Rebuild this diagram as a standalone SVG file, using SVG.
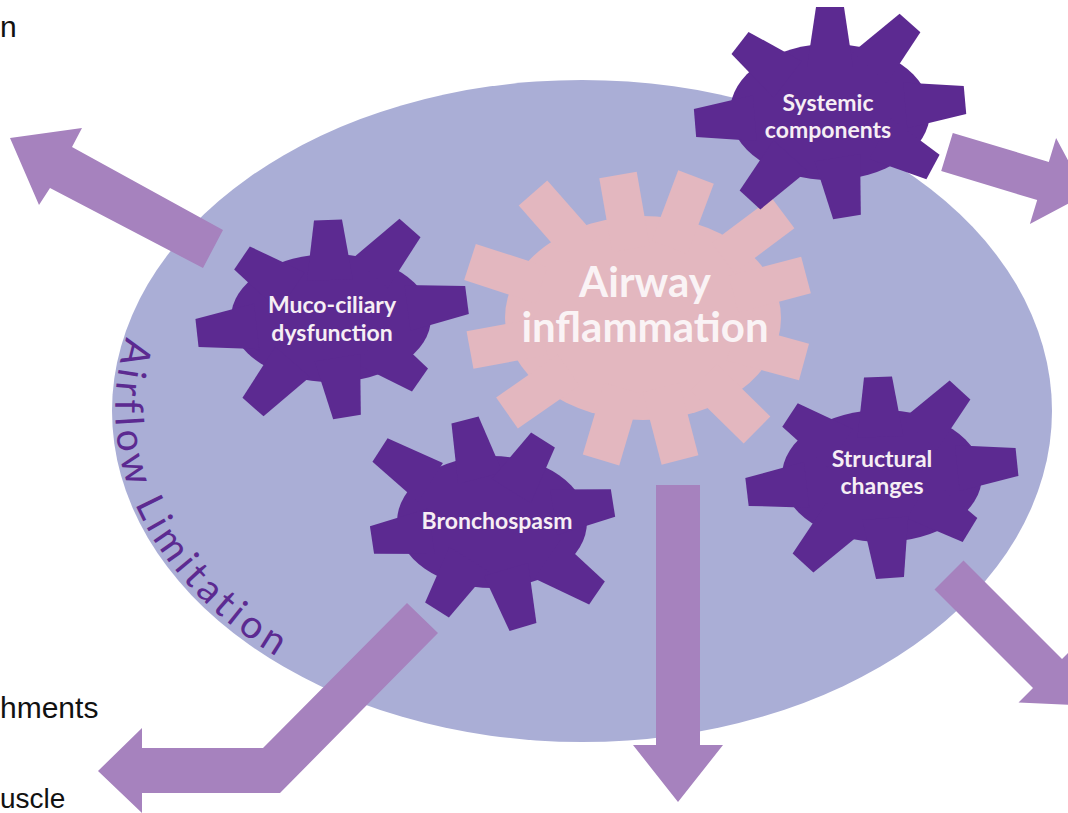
<svg xmlns="http://www.w3.org/2000/svg" xmlns:xlink="http://www.w3.org/1999/xlink" width="1068" height="813" viewBox="0 0 1068 813">
<style>
.arrow{fill:#A682BE}
.purple{fill:#5C2A91}
.pink{fill:#E3B7BF}
.glabel{font-family:Lato,"Open Sans","Liberation Sans",sans-serif;font-weight:bold;font-size:23px;fill:#F6EEF4;text-anchor:middle}
.clabel{font-family:Lato,"Open Sans","Liberation Sans",sans-serif;font-weight:bold;font-size:42px;fill:#FAF3F5;text-anchor:middle}
.side{font-family:"Liberation Sans",Arial,sans-serif;font-size:30px;fill:#111}
.afl{font-family:Lato,"Open Sans",sans-serif;font-weight:normal;font-size:39px;fill:#5C2A91;letter-spacing:4.5px}
</style>
<defs>
<rect id="pt" x="-75" y="-19" width="75" height="38"/>
<polygon id="dt" points="-60,-23 0,-14 0,14 -60,23"/>
<path id="aflpath" d="M143,298.5 A465,326 0 0 0 421,716" fill="none"/>
</defs>
<rect width="1068" height="813" fill="#FFFFFF"/>
<text class="side" x="0" y="37">n</text>
<text class="side" x="0" y="718">hments</text>
<text class="side" x="0" y="808" style="font-size:28px">uscle</text>
<g id="airflow-limitation">
<ellipse cx="582" cy="411" rx="470" ry="331" fill="#AAAED6"/>
<text class="afl"><textPath href="#aflpath" xlink:href="#aflpath" startOffset="42">Airflow Limitation</textPath></text>
</g>
<g id="connectors">
<polygon class="arrow" points="10,138 82,128 72,147 223,230 203,268 50,188 39,205"/>
<polygon class="arrow" points="952.8,132.9 1048.8,161.9 1056.1,138 1086,194.1 1029.9,224 1037.2,200.1 941.2,171.1"/>
<polygon class="arrow" points="963.5,560.5 1062,659 1076.5,644.5 1079.3,705.3 1018.5,702.5 1033,688 934.5,589.5"/>
<polygon class="arrow" points="656,485 700,485 700,745 723,745 678,802 633,745 656,745"/>
<polygon class="arrow" points="407,603 438,633 280,793 142,793 142,813 98,771 142,728 142,748 263,748"/>
</g>
<g id="airway-inflammation" class="pink">
<ellipse cx="643" cy="318" rx="138" ry="102"/>
<use href="#pt" xlink:href="#pt" transform="translate(618,175) rotate(-99.9)"/>
<use href="#pt" xlink:href="#pt" transform="translate(696,177) rotate(-69.4)"/>
<use href="#pt" xlink:href="#pt" transform="translate(533,193) rotate(-131.3)"/>
<use href="#pt" xlink:href="#pt" transform="translate(783,213) rotate(-36.9)"/>
<use href="#pt" xlink:href="#pt" transform="translate(470,262) rotate(-162.1)"/>
<use href="#pt" xlink:href="#pt" transform="translate(470,350) rotate(169.5)"/>
<use href="#pt" xlink:href="#pt" transform="translate(806,275) rotate(-14.8)"/>
<use href="#pt" xlink:href="#pt" transform="translate(804,362) rotate(15.3)"/>
<use href="#pt" xlink:href="#pt" transform="translate(507,413) rotate(145.1)"/>
<use href="#pt" xlink:href="#pt" transform="translate(601,460) rotate(106.5)"/>
<use href="#pt" xlink:href="#pt" transform="translate(680,460) rotate(75.4)"/>
<use href="#pt" xlink:href="#pt" transform="translate(757,430) rotate(44.5)"/>
<text class="clabel" x="645" y="297">Airway</text>
<text class="clabel" x="645" y="342">inflammation</text>
</g>
<g id="muco-ciliary" class="purple">
<ellipse cx="331" cy="318" rx="100" ry="64"/>
<use href="#dt" xlink:href="#dt" transform="translate(242,258) rotate(-146)"/>
<use href="#dt" xlink:href="#dt" transform="translate(328,220) rotate(-91.8)"/>
<use href="#dt" xlink:href="#dt" transform="translate(410,228) rotate(-48.7)"/>
<use href="#dt" xlink:href="#dt" transform="translate(467,300) rotate(-7.5)"/>
<use href="#dt" xlink:href="#dt" transform="translate(420,380) rotate(34.9)"/>
<use href="#dt" xlink:href="#dt" transform="translate(347,417) rotate(80.8)"/>
<use href="#dt" xlink:href="#dt" transform="translate(253,407) rotate(131.2)"/>
<use href="#dt" xlink:href="#dt" transform="translate(197,333) rotate(173.6)"/>
<text class="glabel" x="332" y="313">Muco-ciliary</text>
<text class="glabel" x="332" y="341">dysfunction</text>
</g>
<g id="bronchospasm" class="purple">
<ellipse cx="492" cy="522" rx="95" ry="66"/>
<use href="#dt" xlink:href="#dt" transform="translate(380,450) rotate(-147.3)"/>
<use href="#dt" xlink:href="#dt" transform="translate(465,420) rotate(-104.8)"/>
<use href="#dt" xlink:href="#dt" transform="translate(543,440) rotate(-58.1)"/>
<use href="#dt" xlink:href="#dt" transform="translate(613,503) rotate(-8.9)"/>
<use href="#dt" xlink:href="#dt" transform="translate(597,593) rotate(34.1)"/>
<use href="#dt" xlink:href="#dt" transform="translate(523,627) rotate(73.6)"/>
<use href="#dt" xlink:href="#dt" transform="translate(437,610) rotate(122)"/>
<use href="#dt" xlink:href="#dt" transform="translate(372,540) rotate(171.5)"/>
<text class="glabel" x="497" y="529">Bronchospasm</text>
</g>
<g id="structural-changes" class="purple">
<ellipse cx="882" cy="476" rx="100" ry="66"/>
<use href="#dt" xlink:href="#dt" transform="translate(790,415) rotate(-146.5)"/>
<use href="#dt" xlink:href="#dt" transform="translate(878,377) rotate(-92.3)"/>
<use href="#dt" xlink:href="#dt" transform="translate(960,390) rotate(-47.8)"/>
<use href="#dt" xlink:href="#dt" transform="translate(1017,462) rotate(-5.9)"/>
<use href="#dt" xlink:href="#dt" transform="translate(970,530) rotate(31.5)"/>
<use href="#dt" xlink:href="#dt" transform="translate(890,578) rotate(85.5)"/>
<use href="#dt" xlink:href="#dt" transform="translate(803,563) rotate(132.2)"/>
<use href="#dt" xlink:href="#dt" transform="translate(747,492) rotate(173.2)"/>
<text class="glabel" x="882" y="467">Structural</text>
<text class="glabel" x="882" y="494">changes</text>
</g>
<g id="systemic-components" class="purple">
<ellipse cx="830" cy="112" rx="100" ry="68"/>
<use href="#dt" xlink:href="#dt" transform="translate(740,43) rotate(-142.5)"/>
<use href="#dt" xlink:href="#dt" transform="translate(830,7) rotate(-90)"/>
<use href="#dt" xlink:href="#dt" transform="translate(910,23) rotate(-48)"/>
<use href="#dt" xlink:href="#dt" transform="translate(965,100) rotate(-5.1)"/>
<use href="#dt" xlink:href="#dt" transform="translate(933,167) rotate(28.1)"/>
<use href="#dt" xlink:href="#dt" transform="translate(847,217) rotate(80.8)"/>
<use href="#dt" xlink:href="#dt" transform="translate(750,200) rotate(132.3)"/>
<use href="#dt" xlink:href="#dt" transform="translate(695,123) rotate(175.3)"/>
<text class="glabel" x="828" y="111">Systemic</text>
<text class="glabel" x="828" y="138">components</text>
</g>
</svg>
